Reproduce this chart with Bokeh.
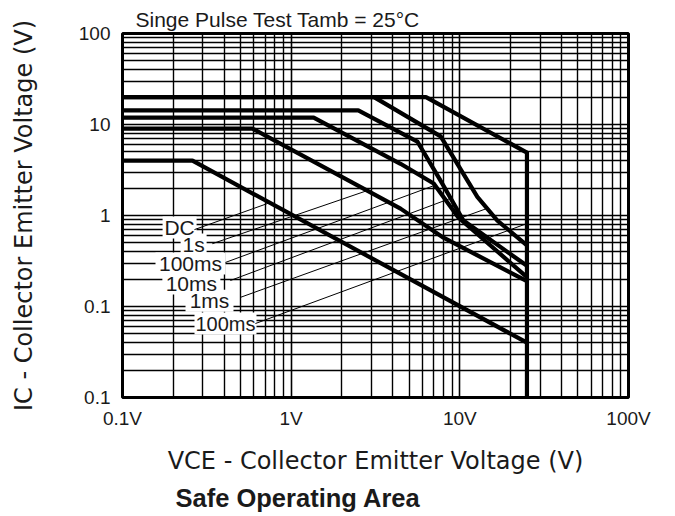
from bokeh.plotting import figure
from bokeh.models import FixedTicker, Title
from bokeh.embed import file_html
from bokeh.resources import INLINE
from bokeh.core.properties import value

# ---- axis ticks / labels ----
x_ticks = [0.1, 1, 10, 100]
x_tick_labels = ["0.1V", "1V", "10V", "100V"]
x_minor = [m * d for d in [0.1, 1, 10] for m in [2, 3, 4, 5, 6, 7, 8, 9]]
y_ticks = [0.01, 0.1, 1, 10, 100]
y_tick_labels = ["0.1", "0.1", "1", "10", "100"]
y_minor = [m * d for d in [0.01, 0.1, 1, 10] for m in [2, 3, 4, 5, 6, 7, 8, 9]]

# ---- SOA curves: VCE (V) vs IC ----
vce_100us = [0.1, 6.3, 25, 25]
ic_100us = [20, 20, 4.9, 0.01]
vce_1ms = [0.1, 3.1, 7.7, 9.2, 12.7, 16.7, 25]
ic_1ms = [20, 20, 7.4, 4.3, 1.6, 0.88, 0.47]
vce_10ms = [0.1, 2.5, 5.6, 7.7, 10.5, 25]
ic_10ms = [14.3, 14.3, 6.5, 2.4, 0.88, 0.28]
vce_100ms = [0.1, 1.36, 4.45, 7.0, 9.8, 25]
ic_100ms = [11.9, 11.9, 3.7, 2.25, 0.95, 0.21]
vce_1s = [0.1, 0.59, 4.45, 8.0, 25]
ic_1s = [9, 9, 1.19, 0.57, 0.19]
vce_dc = [0.1, 0.26, 25]
ic_dc = [4, 4, 0.04]

# ---- curve labels and leader lines ----
label_texts = ["DC", "1s", "100ms", "10ms", "1ms", "100ms"]
label_x = [0.218, 0.264, 0.253, 0.256, 0.328, 0.408]
label_y = [0.738, 0.48, 0.297, 0.179, 0.116, 0.065]
leader_x0 = [0.267, 0.341, 0.408, 0.436, 0.50, 0.614]
leader_y0 = [0.70, 0.49, 0.305, 0.193, 0.126, 0.065]
leader_x1 = [0.753, 2.83, 7.07, 8.79, 14.4, 25.2]
leader_y1 = [1.39, 1.88, 2.14, 1.54, 1.19, 0.82]

FONT = "Liberation Sans"
AXFONT = "DejaVu Sans"
TXT = "#1a1a1a"

p = figure(width=667, height=516, x_axis_type="log", y_axis_type="log",
           x_range=(0.1, 100), y_range=(0.01, 100),
           output_backend="svg", toolbar_location=None,
           min_border_left=122, min_border_right=39,
           min_border_top=33, min_border_bottom=119)
p.background_fill_color = "white"
p.border_fill_color = "white"
p.outline_line_color = "black"
p.outline_line_width = 3

p.title.text = "Singe Pulse Test Tamb = 25°C"
p.title.align = "left"
p.title.offset = 13
p.title.standoff = 5
p.title.text_font = FONT
p.title.text_font_size = "21px"
p.title.text_font_style = "normal"
p.title.text_color = TXT

p.xaxis.ticker = FixedTicker(ticks=x_ticks, minor_ticks=x_minor)
p.yaxis.ticker = FixedTicker(ticks=y_ticks, minor_ticks=y_minor)
p.xaxis.major_label_overrides = {t: l for t, l in zip(x_ticks, x_tick_labels)}
p.yaxis.major_label_overrides = {t: l for t, l in zip(y_ticks, y_tick_labels)}

for ax in (p.xaxis, p.yaxis):
    ax.axis_line_color = None
    ax.major_tick_line_color = None
    ax.minor_tick_line_color = None
    ax.major_tick_out = 0
    ax.major_label_text_font = FONT
    ax.major_label_text_font_size = "19px"
    ax.major_label_text_color = TXT
    ax.axis_label_text_font = AXFONT
    ax.axis_label_text_font_size = "24px"
    ax.axis_label_text_font_style = "normal"
    ax.axis_label_text_color = TXT

p.xaxis.axis_label = "VCE - Collector Emitter Voltage (V)"
p.yaxis.axis_label = "IC - Collector Emitter Voltage (V)"
p.xaxis.major_label_standoff = 6
p.xaxis.axis_label_standoff = 15
p.yaxis.major_label_standoff = 8
p.yaxis.axis_label_standoff = 38

for g in (p.xgrid, p.ygrid):
    g.grid_line_color = "black"
    g.grid_line_width = 1.6
    g.grid_line_alpha = 1
    g.minor_grid_line_color = "black"
    g.minor_grid_line_width = 1.4
    g.minor_grid_line_alpha = 1

# white knock-out boxes behind the curve labels (as in the original sheet)
half_w_px = [17, 13, 35, 29, 24, 31]
half_h_px = 11
box_l = [x / 10 ** (w / 168.7) for x, w in zip(label_x, half_w_px)]
box_r = [x * 10 ** (w / 168.7) for x, w in zip(label_x, half_w_px)]
box_b = [y / 10 ** (half_h_px / 91) for y in label_y]
box_t = [y * 10 ** (half_h_px / 91) for y in label_y]
p.quad(left=box_l, right=box_r, bottom=box_b, top=box_t,
       fill_color="white", line_color=None)

for xs, ys in [(vce_100us, ic_100us), (vce_1ms, ic_1ms), (vce_10ms, ic_10ms),
               (vce_100ms, ic_100ms), (vce_1s, ic_1s), (vce_dc, ic_dc)]:
    p.line(xs, ys, line_color="black", line_width=4.2, line_join="round")

p.segment(x0=leader_x0, y0=leader_y0, x1=leader_x1, y1=leader_y1,
          line_color="black", line_width=1)

p.text(x=label_x[:-1], y=label_y[:-1], text=label_texts[:-1],
       text_align="center", text_baseline="middle",
       text_font=value(FONT), text_font_size="21px", text_color=TXT)
p.text(x=label_x[-1:], y=label_y[-1:], text=label_texts[-1:],
       text_align="center", text_baseline="middle",
       text_font=value(FONT), text_font_size="20px", text_color=TXT)

p.add_layout(Title(text="Safe Operating Area", align="left",
                   text_font=FONT, text_font_size="25.5px",
                   text_font_style="bold", text_color=TXT,
                   standoff=9, offset=53), "below")

open("out.html", "w").write(file_html(p, INLINE))
